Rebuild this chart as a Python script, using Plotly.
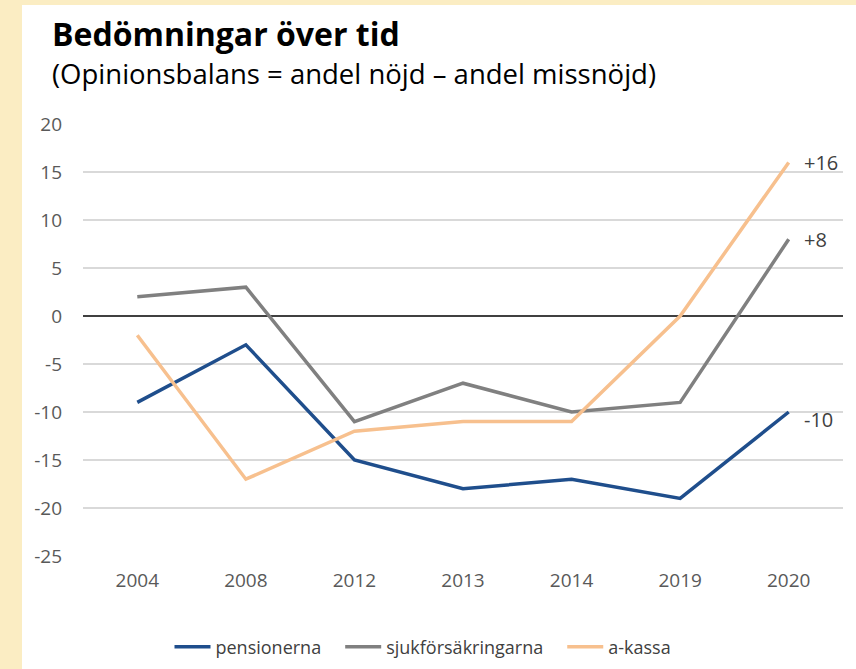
import plotly.graph_objects as go

years = ["2004", "2008", "2012", "2013", "2014", "2019", "2020"]
pensionerna = [-9, -3, -15, -18, -17, -19, -10]
sjukforsakringarna = [2, 3, -11, -7, -10, -9, 8]
akassa = [-2, -17, -12, -11, -11, 0, 16]
end_labels = ["-10", "+8", "+16"]
y_ticks = [20, 15, 10, 5, 0, -5, -10, -15, -20, -25]
y_ticktext = ["20", "15", "10", "5", "0", "-5", "-10", "-15", "-20", "-25"]

FONT = "Open Sans"
W, H = 856, 669
L, R, T, B = 83, 13, 124, 113
pw, ph = W - L - R, H - T - B

def px_x(x):
    return (x - L) / pw

def px_y(y):
    return (H - B - y) / ph

NB = "\u00a0"
fig = go.Figure()
series = [
    ("pensionerna", pensionerna, "#1F4E8C", NB * 3),
    ("sjukförsäkringarna", sjukforsakringarna, "#808080", NB * 3),
    ("a-kassa", akassa, "#F7C08E", ""),
]
for name, vals, col, pad in series:
    fig.add_trace(go.Scatter(x=years, y=vals, name=name + pad, mode="lines",
                             line=dict(color=col, width=3.5)))

# end labels
shifts = {"-10": -7, "+8": 0, "+16": 0}
for (name, vals, col, pad), lab in zip(series, end_labels):
    fig.add_annotation(x=len(years) - 1, y=vals[-1], text=lab, showarrow=False,
                       xanchor="left", xshift=13, yshift=shifts[lab],
                       font=dict(family=FONT, size=20, color="#404040"))

# white card over yellow background
fig.add_shape(type="rect", xref="paper", yref="paper", layer="below",
              x0=px_x(22), x1=px_x(W + 5), y0=px_y(H + 5), y1=px_y(5),
              fillcolor="white", line=dict(width=0))

fig.add_annotation(xref="paper", yref="paper", x=px_x(50), y=px_y(57),
                   text="<b>Bedömningar över tid</b>", showarrow=False,
                   xanchor="left", yanchor="bottom",
                   font=dict(family=FONT, size=32, color="#000000"))
fig.add_annotation(xref="paper", yref="paper", x=px_x(50), y=px_y(94),
                   text="(Opinionsbalans = andel nöjd – andel missnöjd)", showarrow=False,
                   xanchor="left", yanchor="bottom",
                   font=dict(family=FONT, size=27.5, color="#000000"))

fig.update_layout(
    width=W, height=H,
    margin=dict(l=L, r=R, t=T, b=B, autoexpand=False),
    paper_bgcolor="#FBEDC3",
    plot_bgcolor="white",
    font=dict(family=FONT, size=19, color="#595959"),
    showlegend=True,
    legend=dict(orientation="h", x=px_x(423), xanchor="center", yref="container",
                y=1 - 647 / H, yanchor="middle",
                font=dict(family=FONT, size=18, color="#404040"), bgcolor="rgba(0,0,0,0)",
                itemwidth=36),
    xaxis=dict(type="category", range=[-0.5, 6.5], showgrid=False, zeroline=False,
               showline=False, ticks="", tickfont=dict(size=19, color="#595959"),
               ticklabelstandoff=11, automargin=False),
    yaxis=dict(range=[-25, 20], tickmode="array", tickvals=y_ticks, ticktext=y_ticktext,
               showgrid=True, gridcolor="#D9D9D9",
               gridwidth=1.5, zeroline=True, zerolinecolor="#404040", zerolinewidth=1.5,
               showline=False, ticks="", tickfont=dict(size=19, color="#595959"),
               ticklabelstandoff=20, automargin=False),
)

fig.write_html("out.html", config={"displayModeBar": False},
               post_script="document.body.style.margin='0';")
